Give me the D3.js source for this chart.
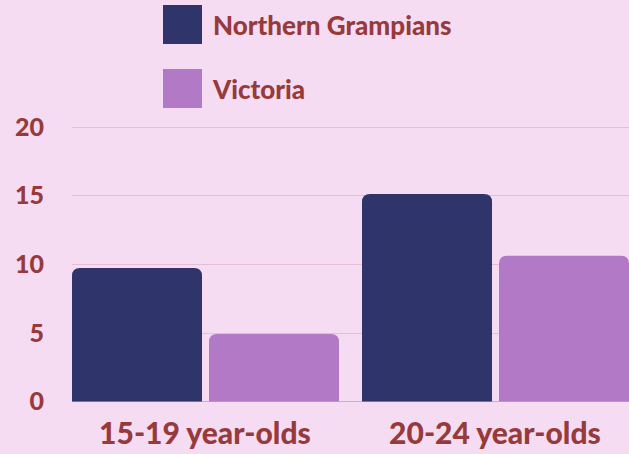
<!DOCTYPE html>
<html lang="en">
<head>
    <meta charset="UTF-8">
    <title>Age groups</title>
    <script src="https://cdn.jsdelivr.net/npm/d3@7"></script>
    <style>
        body { margin: 0; background: #f5dcf2; }
        text { font-family: "Lato", sans-serif; font-weight: 900; fill: #973a3c; }
    </style>
</head>
<body>
    <script>
        var categories = ["15-19 year-olds", "20-24 year-olds"];
        var series = ["Northern Grampians", "Victoria"];
        var northernGrampians = [9.7, 15.1];
        var victoria = [4.9, 10.6];
        var yTicks = [0, 5, 10, 15, 20];
        var colors = ["#2f356b", "#b279c6"];

        var width = 629, height = 454;
        var values = [northernGrampians, victoria];

        var svg = d3.select("body").append("svg")
            .attr("width", width)
            .attr("height", height);

        var y = d3.scaleLinear().domain([0, 20]).range([401.4, 126.6]);
        var x0 = d3.scaleBand().domain(categories).range([72, 629]).paddingInner(23 / 290).paddingOuter(0);
        var x1 = d3.scaleBand().domain(series).range([0, x0.bandwidth()]).paddingInner(7 / 137);

        // grid
        svg.append("g").selectAll("line")
            .data(yTicks)
            .enter().append("line")
            .attr("x1", 72).attr("x2", width)
            .attr("y1", function (d) { return Math.round(y(d)) + 0.5; })
            .attr("y2", function (d) { return Math.round(y(d)) + 0.5; })
            .attr("stroke", function (d) { return d === 0 ? "#dba9bf" : "#e6bdd2"; })
            .attr("stroke-width", 1);

        // y labels
        svg.append("g").selectAll("text")
            .data(yTicks)
            .enter().append("text")
            .attr("x", 44)
            .attr("y", function (d) { return y(d) + 9; })
            .attr("text-anchor", "end")
            .attr("font-size", 25)
            .text(function (d) { return d; });

        function topRounded(x, yTop, w, h, r) {
            return "M" + x + "," + (yTop + h) +
                "V" + (yTop + r) +
                "Q" + x + "," + yTop + " " + (x + r) + "," + yTop +
                "H" + (x + w - r) +
                "Q" + (x + w) + "," + yTop + " " + (x + w) + "," + (yTop + r) +
                "V" + (yTop + h) + "Z";
        }

        var groups = svg.append("g").selectAll("g")
            .data(categories)
            .enter().append("g")
            .attr("transform", function (d) { return "translate(" + x0(d) + ",0)"; });

        groups.selectAll("path")
            .data(function (c, ci) {
                return series.map(function (s, si) { return { s: s, v: values[si][ci], i: si }; });
            })
            .enter().append("path")
            .attr("fill", function (d) { return colors[d.i]; })
            .attr("d", function (d) {
                return topRounded(x1(d.s), y(d.v), x1.bandwidth(), y(0) - y(d.v), 8);
            });

        // x labels
        svg.append("g").selectAll("text")
            .data(categories)
            .enter().append("text")
            .attr("x", function (d) { return x0(d) + 133; })
            .attr("y", 444)
            .attr("text-anchor", "middle")
            .attr("font-size", 30)
            .text(function (d) { return d; });

        // legend
        var legend = svg.append("g").selectAll("g")
            .data(series)
            .enter().append("g")
            .attr("transform", function (d, i) { return "translate(163," + (5 + i * 64) + ")"; });

        legend.append("rect")
            .attr("width", 39).attr("height", 39)
            .attr("fill", function (d, i) { return colors[i]; });

        legend.append("text")
            .attr("x", 50)
            .attr("y", 30)
            .attr("font-size", 26)
            .text(function (d) { return d; });
    </script>
</body>
</html>
